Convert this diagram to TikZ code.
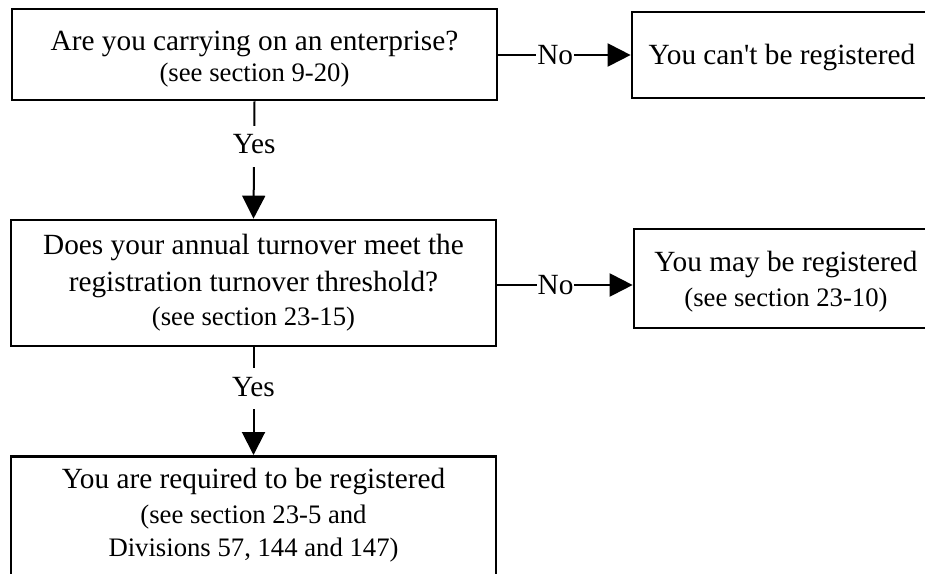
\documentclass[tikz,border=0pt]{standalone}
\usepackage{fontspec}
\setmainfont{Liberation Serif}
\usetikzlibrary{arrows.meta}
\newcommand\mainsz{\fontsize{29.3}{37}\selectfont}
\newcommand\subsz{\fontsize{26.7}{35}\selectfont}
\tikzset{
  box/.style={draw=black, line width=2.7pt, rectangle, align=center, inner sep=0pt, font=\mainsz},
  conn/.style={draw=black, line width=2pt, -{Triangle[length=23pt,width=23pt]}},
  lbl/.style={fill=white, inner xsep=1pt, inner ysep=9pt, text depth=4pt, font=\mainsz},
  nolbl/.style={fill=white, inner xsep=1pt, inner ysep=2pt, font=\mainsz}
}
\begin{document}
\begin{tikzpicture}[x=1pt,y=-1pt]
\clip (0,0) rectangle (925,573);
\fill[white] (0,0) rectangle (925,573);
\node[box, minimum width=485pt, minimum height=91pt, text height=60pt] (b1) at (254.5,54.5)
  {Are you carrying on an enterprise?\\[-6pt] \subsz (see section 9-20)};
\node[box, minimum width=300pt, minimum height=86pt, text height=25pt] (b2) at (782,55)
  {You can\textquotesingle t be registered};
\node[box, minimum width=485pt, minimum height=126pt] (b3) at (253.5,283)
  {Does your annual turnover meet the\\ registration turnover threshold?\\[-3pt] \subsz (see section 23-15)};
\node[box, minimum width=304pt, minimum height=99pt, text height=61pt] (b4) at (786,278.5)
  {You may be registered\\[-2pt] \subsz (see section 23-10)};
\node[box, anchor=north, minimum width=485pt, inner ysep=12pt, text depth=60pt] (b5) at (253.5,455)
  {You are required to be registered\\[-2pt] \subsz (see section 23-5 and\\[-4pt] \subsz Divisions 57, 144 and 147)};
\draw[conn] (b1.east |- 0,55) -- node[nolbl, pos=0.43] (n1) {No} (b2.west |- 0,55);
\draw[conn] (b3.east |- 0,285) -- node[nolbl, pos=0.43] (n2) {No} (b4.west |- 0,285);
\draw[conn] (b1.south) -- node[lbl, pos=0.383] (y1) {Yes} (b3.north);
\draw[conn] (b3.south) -- node[lbl, pos=0.385] (y2) {Yes} (b5.north);
\end{tikzpicture}
\end{document}
